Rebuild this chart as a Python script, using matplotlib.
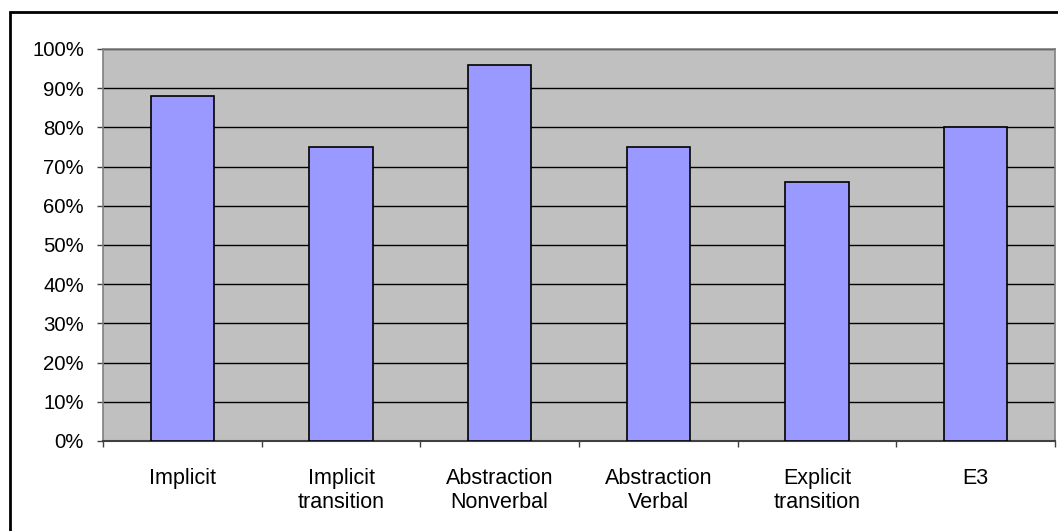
import matplotlib
matplotlib.use("Agg")
import matplotlib.pyplot as plt
from matplotlib.patches import Rectangle
from matplotlib.ticker import FixedLocator, NullFormatter, FuncFormatter
import numpy as np

categories = ["Implicit", "Implicit\ntransition", "Abstraction\nNonverbal",
              "Abstraction\nVerbal", "Explicit\ntransition", "E3"]
values = [0.88, 0.75, 0.96, 0.75, 0.66, 0.80]
yticks = [i / 10 for i in range(11)]

plt.rcParams["font.family"] = ["Liberation Sans", "DejaVu Sans"]

W, H = 1058, 531
fig = plt.figure(figsize=(W / 100, H / 100), dpi=100)
fig.patch.set_facecolor("white")

# outer chart frame
fig.patches.append(Rectangle((10 / W, -0.1), 1.2, 1 - 12 / H + 0.1,
                             transform=fig.transFigure, fill=False,
                             edgecolor="black", linewidth=2))

left, right, top, bottom = 103, 1055, 49, 441
ax = fig.add_axes([left / W, 1 - bottom / H, (right - left) / W, (bottom - top) / H])
ax.set_facecolor("#C0C0C0")

x = np.arange(len(categories))
ax.bar(x, values, width=0.4, color="#9999FF", edgecolor="black", linewidth=1.2, zorder=3)

ax.set_xlim(-0.5, len(categories) - 0.5)
ax.set_ylim(0, 1)
ax.set_yticks(yticks)
ax.yaxis.set_major_formatter(FuncFormatter(lambda v, p: f"{v * 100:.0f}%"))
ax.grid(axis="y", color="black", linewidth=1.0, zorder=1)
ax.set_axisbelow(True)

# category boundaries as major ticks, labels centered as minor ticks
ax.xaxis.set_major_locator(FixedLocator(np.arange(len(categories) + 1) - 0.5))
ax.xaxis.set_major_formatter(NullFormatter())
ax.xaxis.set_minor_locator(FixedLocator(x))
ax.set_xticklabels(categories, minor=True, linespacing=1.2)
ax.tick_params(axis="x", which="major", length=4.3, width=1, color="#404040", direction="out")
ax.tick_params(axis="x", which="minor", length=0, pad=19.5, labelsize=15.5)
ax.tick_params(axis="y", length=4.3, width=1, color="#404040", pad=9.4, labelsize=14.7)

for s in ["left", "top", "right"]:
    ax.spines[s].set_color("#808080")
    ax.spines[s].set_linewidth(1.2)
ax.spines["bottom"].set_color("#404040")
ax.spines["bottom"].set_linewidth(1.5)

fig.savefig("out.png", dpi=100)
